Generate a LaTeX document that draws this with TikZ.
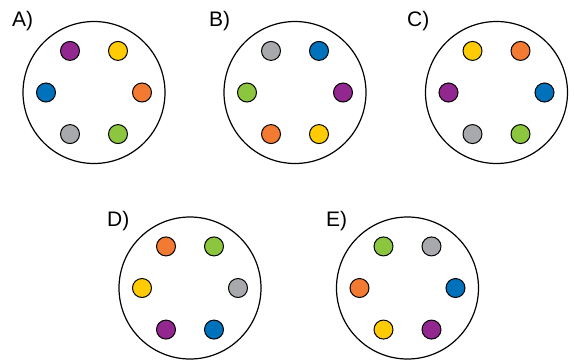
\documentclass[tikz,border=0pt]{standalone}
\usepackage{fontspec}
\setmainfont{Liberation Sans}
\usepackage{tikz}
\usetikzlibrary{calc}

\definecolor{bpurple}{HTML}{92278F}
\definecolor{byellow}{HTML}{FFCB05}
\definecolor{bblue}{HTML}{0072BC}
\definecolor{borange}{HTML}{F37A33}
\definecolor{bgray}{HTML}{A7A9AC}
\definecolor{bgreen}{HTML}{8CC63F}

\tikzset{
  ring/.style={draw=black, line width=1.2pt},
  bead/.style={draw=black, line width=1pt},
  optlabel/.style={anchor=base west, inner sep=0pt, font=\fontsize{21}{24}\selectfont}
}

\begin{document}
\begin{tikzpicture}[x=1pt,y=-1pt]
\useasboundingbox (0,0) rectangle (574,360);
%A
\node[optlabel] (labA) at (12,26) {A)};
\draw[ring] (94,92.5) circle (71);
\begin{scope}[shift={(94,92.5)}]
\foreach \c/\a in {bpurple/240,byellow/300,borange/0,bgreen/60,bgray/120,bblue/180}
  {\filldraw[bead,fill=\c] (\a:48) circle (9.5);}
\end{scope}
%B
\node[optlabel] (labB) at (209,26) {B)};
\draw[ring] (295,92.5) circle (71);
\begin{scope}[shift={(295,92.5)}]
\foreach \c/\a in {bgray/240,bblue/300,bpurple/0,byellow/60,borange/120,bgreen/180}
  {\filldraw[bead,fill=\c] (\a:48) circle (9.5);}
\end{scope}
%C
\node[optlabel] (labC) at (407,26) {C)};
\draw[ring] (496.5,92.5) circle (71);
\begin{scope}[shift={(496.5,92.5)}]
\foreach \c/\a in {byellow/240,borange/300,bblue/0,bgreen/60,bgray/120,bpurple/180}
  {\filldraw[bead,fill=\c] (\a:48) circle (9.5);}
\end{scope}
%D
\node[optlabel] (labD) at (107,226) {D)};
\draw[ring] (190,288) circle (71);
\begin{scope}[shift={(190,288)}]
\foreach \c/\a in {borange/240,bgreen/300,bgray/0,bblue/60,bpurple/120,byellow/180}
  {\filldraw[bead,fill=\c] (\a:48) circle (9.5);}
\end{scope}
%E
\node[optlabel] (labE) at (326,226) {E)};
\draw[ring] (407.5,288) circle (71);
\begin{scope}[shift={(407.5,288)}]
\foreach \c/\a in {bgreen/240,bgray/300,bblue/0,bpurple/60,byellow/120,borange/180}
  {\filldraw[bead,fill=\c] (\a:48) circle (9.5);}
\end{scope}
\end{tikzpicture}
\end{document}
